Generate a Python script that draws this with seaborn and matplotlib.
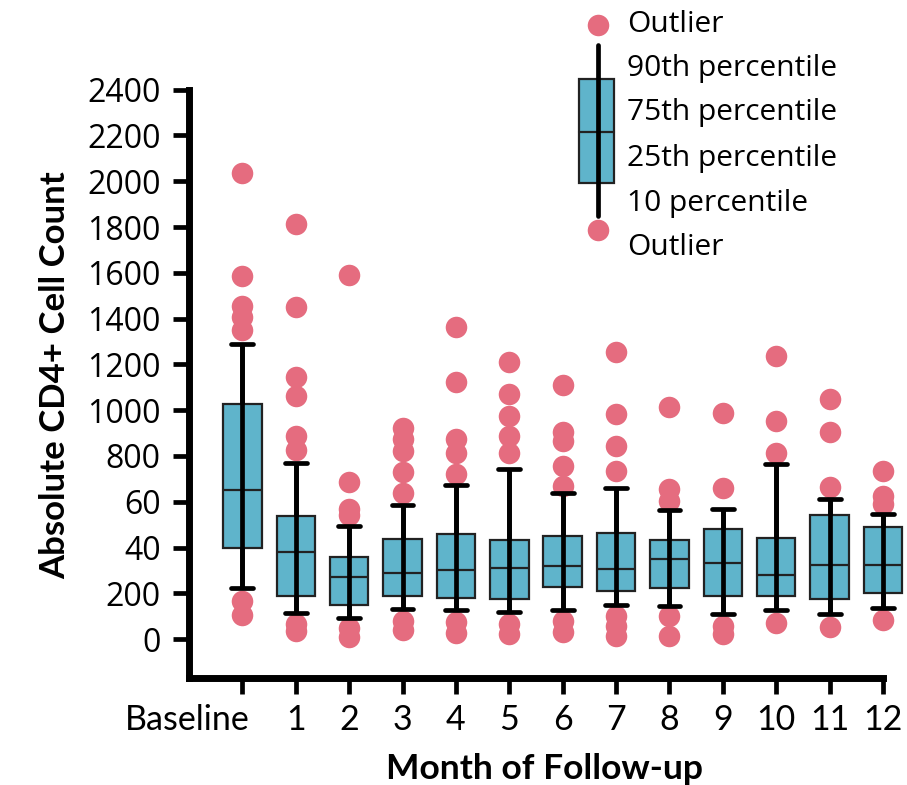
import numpy as np
import pandas as pd
import matplotlib
matplotlib.use("Agg")
import matplotlib.pyplot as plt
import seaborn as sns
from matplotlib.patches import Rectangle
from matplotlib.lines import Line2D
from matplotlib.transforms import ScaledTranslation

# ---- data -------------------------------------------------------------
months = ["Baseline", "1", "2", "3", "4", "5", "6", "7", "8", "9", "10", "11", "12"]

p10 = [222, 114, 90, 130, 126, 120, 126, 149, 143, 108, 126, 108, 137]
q1 = [397, 190, 150, 188, 181, 174, 229, 210, 222, 188, 188, 174, 203]
median = [652, 381, 272, 290, 303, 312, 318, 308, 349, 334, 279, 324, 324]
q3 = [1025, 536, 357, 436, 458, 435, 451, 462, 432, 480, 441, 541, 490]
p90 = [1288, 770, 495, 585, 674, 742, 636, 658, 563, 567, 764, 611, 546]

outliers = [
    [2035, 1585, 1455, 1405, 1350, 165, 105],
    [1815, 1450, 1143, 1060, 885, 825, 65, 35],
    [1590, 687, 567, 540, 50, 8],
    [922, 874, 823, 728, 636, 79, 40],
    [1362, 1122, 874, 815, 721, 75, 25],
    [1209, 1071, 976, 888, 815, 64, 22],
    [1112, 903, 866, 757, 670, 79, 32],
    [1253, 983, 845, 735, 101, 57, 15],
    [1012, 655, 604, 101, 15],
    [988, 658, 57, 22],
    [1238, 954, 811, 71],
    [1049, 906, 665, 53],
    [735, 625, 590, 82],
]

ytick_values = [0, 200, 400, 600, 800, 1000, 1200, 1400, 1600, 1800, 2000, 2200, 2400]
ytick_labels = ["0", "200", "40", "60", "800", "1000", "1200", "1400",
                "1600", "1800", "2000", "2200", "2400"]

legend_labels = ["Outlier", "90th percentile", "75th percentile",
                 "25th percentile", "10 percentile", "Outlier"]

# ---- styling ----------------------------------------------------------
BLUE = "#5FB4CB"
PINK = "#E56C7F"
EDGE = "#222222"

sns.set_theme(style="white")
plt.rcParams["font.family"] = ["Open Sans", "DejaVu Sans"]
plt.rcParams.update({
    "text.color": "black",
    "axes.labelcolor": "black",
    "xtick.color": "black",
    "ytick.color": "black",
})

W, H = 907, 785
fig = plt.figure(figsize=(W / 100, H / 100), dpi=100)


def fx(px):
    return px / W


def fy(py):
    return 1 - py / H


AX_L, AX_R, AX_T, AX_B = 189, 883, 89.7, 678
ax = fig.add_axes([fx(AX_L), fy(AX_B), fx(AX_R) - fx(AX_L), fy(AX_T) - fy(AX_B)])

# long-form tables: the five-number summary of each month, and the outliers
summary = pd.DataFrame({
    "month": np.repeat(months, 5),
    "count": np.column_stack([p10, q1, median, q3, p90]).ravel(),
})
fliers = pd.DataFrame(
    [(m, v) for m, vals in zip(months, outliers) for v in vals],
    columns=["month", "count"],
)

sns.stripplot(data=fliers, x="month", y="count", order=months, jitter=False,
              size=15.5, color=PINK, linewidth=0, ax=ax, zorder=1)

sns.boxplot(data=summary, x="month", y="count", order=months,
            whis=(0, 100), showfliers=False, width=0.72, color=BLUE,
            saturation=1, linecolor=EDGE, linewidth=1.6,
            capwidths=0.41,
            whiskerprops=dict(color="black", linewidth=3.4),
            capprops=dict(color="black", linewidth=3.4),
            medianprops=dict(color=EDGE, linewidth=1.6),
            ax=ax)

# whisker line running through each box, from the 10th to the 90th percentile
ax.vlines(range(len(months)), p10, p90, color="black", linewidth=3.4, zorder=3)

for art in list(ax.patches) + list(ax.lines) + list(ax.collections):
    art.set_clip_on(False)

ax.set_xlim(-1, 12)
ax.set_ylim(-170, 2400)
ax.set_yticks(ytick_values, ytick_labels)
ax.set_xticks(range(len(months)), months)

for side in ("top", "right"):
    ax.spines[side].set_visible(False)
for side in ("left", "bottom"):
    ax.spines[side].set_linewidth(5)
    ax.spines[side].set_color("black")

ax.tick_params(axis="both", which="major", direction="out", length=11.5,
               width=3.4, color="black", left=True, bottom=True)
ax.tick_params(axis="y", pad=9, labelsize=23)
ax.tick_params(axis="x", pad=7, labelsize=24.5)
for lab in ax.get_yticklabels():
    lab.set_fontfamily(["Open Sans", "DejaVu Sans"])
for lab in ax.get_xticklabels():
    lab.set_fontfamily(["Lato", "DejaVu Sans"])

# the "Baseline" label sits a little left of its tick
first = ax.xaxis.get_major_ticks()[0].label1
first.set_transform(first.get_transform()
                    + ScaledTranslation(-55 / 100, 0, fig.dpi_scale_trans))

ax.set_xlabel("Month of Follow-up", fontsize=25.5, fontweight="bold",
              family=["Lato", "DejaVu Sans"], va="baseline")
ax.xaxis.set_label_coords((544 - AX_L) / (AX_R - AX_L),
                          -(779 - AX_B) / (AX_B - AX_T))
ax.set_ylabel("Absolute CD4+ Cell Count", fontsize=25, fontweight="bold",
              family=["Lato", "DejaVu Sans"], va="baseline",
              rotation_mode="anchor")
ax.yaxis.set_label_coords(-(AX_L - 65) / (AX_R - AX_L),
                          (AX_B - 375) / (AX_B - AX_T))
ax.grid(False)

# ---- key explaining the box elements ---------------------------------
tf = fig.transFigure
fig.add_artist(Line2D([fx(597.5)] * 2, [fy(45), fy(216)], color="black",
                      linewidth=3.4, transform=tf, zorder=2))
fig.add_artist(Rectangle((fx(578.5), fy(183)), fx(613.5) - fx(578.5),
                         fy(79) - fy(183), facecolor=BLUE, edgecolor=EDGE,
                         linewidth=1.6, transform=tf, zorder=1))
fig.add_artist(Line2D([fx(578.5), fx(613.5)], [fy(132.3)] * 2, color=EDGE,
                      linewidth=1.6, transform=tf, zorder=1.5))
fig.add_artist(Line2D([fx(597.5)] * 2, [fy(25), fy(230)], linestyle="none",
                      marker="o", markersize=15.5, markerfacecolor=PINK,
                      markeredgewidth=0, transform=tf, zorder=3))

baselines = [31.7, 76, 120, 165.7, 211, 255]
for label, base in zip(legend_labels, baselines):
    fig.text(fx(627), fy(base), label, va="baseline", ha="left",
             fontsize=21.5, family=["Open Sans", "DejaVu Sans"])

fig.savefig("out.png", dpi=100)
